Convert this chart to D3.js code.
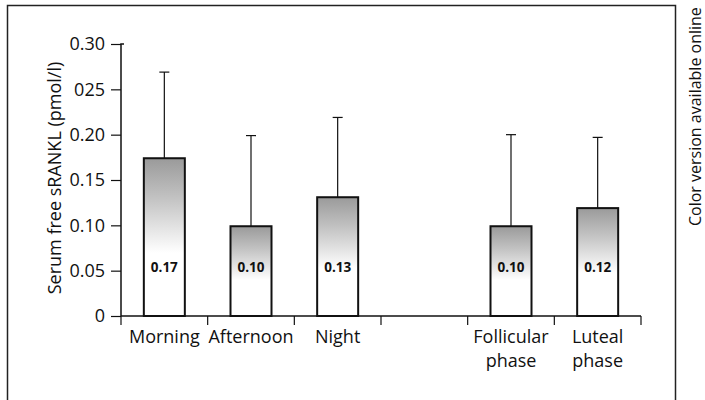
<!DOCTYPE html>
<html><head><meta charset="utf-8">
<script src="https://cdn.jsdelivr.net/npm/d3@7"></script>
<style>body{margin:0;background:#fff}svg{display:block}text{font-family:"Open Sans",sans-serif;fill:#111}</style>
</head><body><svg id="c" width="705" height="400"></svg>
<script>
const categories = ["Morning","Afternoon","Night","","Follicular phase","Luteal phase"];
const means = [0.174, 0.099, 0.131, null, 0.099, 0.119];
const errors = [0.095, 0.100, 0.088, null, 0.101, 0.078];
const valueLabels = ["0.17","0.10","0.13","","0.10","0.12"];
const yTicks = [0, 0.05, 0.10, 0.15, 0.20, 0.25, 0.30];
const yTickLabels = ["0","0.05","0.10","0.15","0.20","025","0.30"];
const yTitle = "Serum free sRANKL (pmol/l)";
const sideNote = "Color version available online";

const svg = d3.select("#c");
const x = d3.scaleBand().domain(d3.range(categories.length)).range([121, 641]).paddingInner(0);
const y = d3.scaleLinear().domain([0, 0.30]).range([316, 44]);

const defs = svg.append("defs");
const g = defs.append("linearGradient").attr("id","grad").attr("x1",0).attr("y1",0).attr("x2",0).attr("y2",1);
g.append("stop").attr("offset","0%").attr("stop-color","#9a9a9a");
g.append("stop").attr("offset","25%").attr("stop-color","#c2c2c2");
g.append("stop").attr("offset","60%").attr("stop-color","#ffffff");

// frame
svg.append("path").attr("d","M7.5,410 V5.5 H675.5 V410").attr("fill","none").attr("stroke","#222").attr("stroke-width",1.5);

// side note
svg.append("text").attr("transform","translate(701,226) rotate(-90)").attr("font-size",16).text(sideNote);

// y axis
const ya = svg.append("g").attr("transform","translate(121,0)")
  .call(d3.axisLeft(y).tickValues(yTicks).tickSize(10).tickPadding(6).tickFormat((d,i)=>yTickLabels[i]));
ya.select(".domain").attr("d","M0,316V44H3").attr("stroke","#111").attr("stroke-width",1.5);
ya.selectAll(".tick line").attr("stroke","#111").attr("stroke-width",1.2);
ya.selectAll(".tick text").attr("font-size",18).attr("font-family","'Open Sans',sans-serif").attr("fill","#111");

svg.append("text").attr("transform","translate(61,178) rotate(-90)").attr("text-anchor","middle").attr("font-size",18).text(yTitle);

// x axis
svg.append("line").attr("x1",x.range()[0]).attr("x2",x.range()[1]).attr("y1",y(0)).attr("y2",y(0)).attr("stroke","#111").attr("stroke-width",1.5);
const bounds = d3.range(categories.length+1).map(i => i < categories.length ? x(i) : x.range()[1]);
svg.selectAll(".xt").data(bounds).join("line").attr("x1",d=>d).attr("x2",d=>d).attr("y1",y(0)).attr("y2",y(0)+9).attr("stroke","#111").attr("stroke-width",1.2);

const idx = d3.range(categories.length).filter(i => means[i] != null);
const bw = 41;
// error bars
idx.forEach(i => {
  const cx = x(i) + x.bandwidth()/2;
  svg.append("line").attr("x1",cx).attr("x2",cx).attr("y1",y(means[i])).attr("y2",y(means[i]+errors[i])).attr("stroke","#111").attr("stroke-width",1.2);
  svg.append("line").attr("x1",cx-5).attr("x2",cx+5).attr("y1",y(means[i]+errors[i])).attr("y2",y(means[i]+errors[i])).attr("stroke","#111").attr("stroke-width",1.2);
});
// bars
svg.selectAll(".bar").data(idx).join("rect")
  .attr("x", i => x(i) + x.bandwidth()/2 - bw/2).attr("width", bw)
  .attr("y", i => y(means[i])).attr("height", i => y(0) - y(means[i]))
  .attr("fill","url(#grad)").attr("stroke","#111").attr("stroke-width",2);
svg.selectAll(".vl").data(idx).join("text")
  .attr("x", i => x(i) + x.bandwidth()/2).attr("y", 272)
  .attr("text-anchor","middle").attr("font-size",13.5).attr("font-weight","bold").text(i => valueLabels[i]);

// category labels
idx.forEach(i => {
  const cx = x(i) + x.bandwidth()/2;
  const parts = categories[i].split(" ");
  parts.forEach((p,k) => svg.append("text").attr("x",cx).attr("y",343+k*23.5).attr("text-anchor","middle").attr("font-size",18).text(p));
});
</script></body></html>
